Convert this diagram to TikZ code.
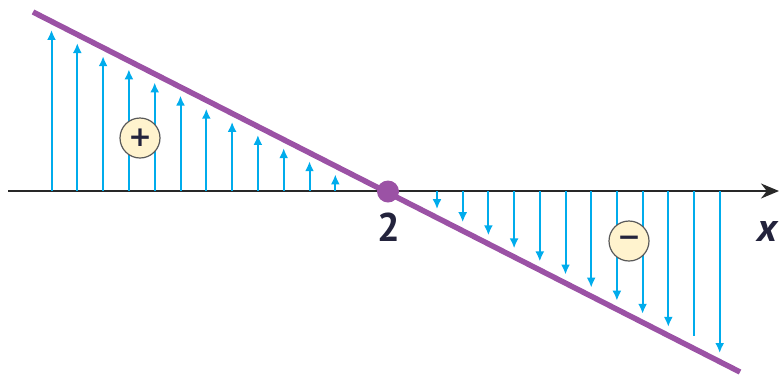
\documentclass[tikz,border=0pt]{standalone}
\usepackage{fontspec}
\setmainfont{PT Sans}
\newfontfamily\signfont{DejaVu Sans}
\usetikzlibrary{arrows.meta}
\definecolor{lilac}{RGB}{155,82,165}
\definecolor{sky}{RGB}{0,172,236}
\definecolor{axisgray}{RGB}{40,40,40}
\definecolor{cream}{RGB}{255,243,206}
\definecolor{ink}{RGB}{35,35,60}
\begin{document}
\begin{tikzpicture}[x=1pt,y=-1pt,
  axisline/.style={draw=axisgray,line width=2pt,-{Stealth[length=18pt,width=15pt]}},
  loadline/.style={draw=lilac,line width=5.5pt},
  forcearrow/.style={draw=sky,line width=2pt,-{Latex[length=10pt,width=9pt]}},
  forceplain/.style={draw=sky,line width=2pt},
  signbox/.style={circle,draw=black!65,line width=1.2pt,fill=cream,minimum size=40pt,inner sep=0pt,font=\signfont\bfseries\fontsize{28}{28}\selectfont,text=ink},
  lbl/.style={inner sep=0pt,text=ink,font=\bfseries\fontsize{40}{40}\selectfont}]
\useasboundingbox (0,0) rectangle (780,376);
% axis
\coordinate (a0) at (8,191);
\coordinate (a1) at (779,191);
\draw[axisline] (a0) -- (a1);
% positive arrows
\foreach \i in {0,...,11} {
  \pgfmathsetmacro\xx{51.5+25.8*\i}
  \pgfmathsetmacro\yy{12+0.509*(\xx-33)+8.5}
  \coordinate (ub\i) at (\xx,191);
  \coordinate (ut\i) at (\xx,\yy);
  \draw[forcearrow] (ub\i) -- (ut\i);
}
% negative arrows
\foreach \i in {0,...,11} {
  \pgfmathsetmacro\xx{437+25.7*\i}
  \pgfmathsetmacro\yy{12+0.509*(\xx-33)-8.5}
  \coordinate (db\i) at (\xx,191);
  \coordinate (dt\i) at (\xx,\yy);
  \ifnum\i=10
    \pgfmathsetmacro\yz{12+0.509*(\xx-33)-12}
    \coordinate (dt\i) at (\xx,\yz);
    \draw[forceplain] (db\i) -- (dt\i);
  \else
    \draw[forcearrow] (db\i) -- (dt\i);
  \fi
}
% load line
\coordinate (p1) at (33,12);
\coordinate (p2) at (740,372);
\draw[loadline] (p1) -- (p2);
\node[circle,fill=lilac,minimum size=22pt,inner sep=0pt] (zero) at (388,191.5) {};
% signs
\node[signbox] (plus) at (140,138) {+};
\node[signbox] (minus) at (629,241) {−};
% labels
\node[lbl] (two) at (389,227) {2};
\node[lbl] (xlab) at (767,231) {\itshape x};
\end{tikzpicture}
\end{document}
